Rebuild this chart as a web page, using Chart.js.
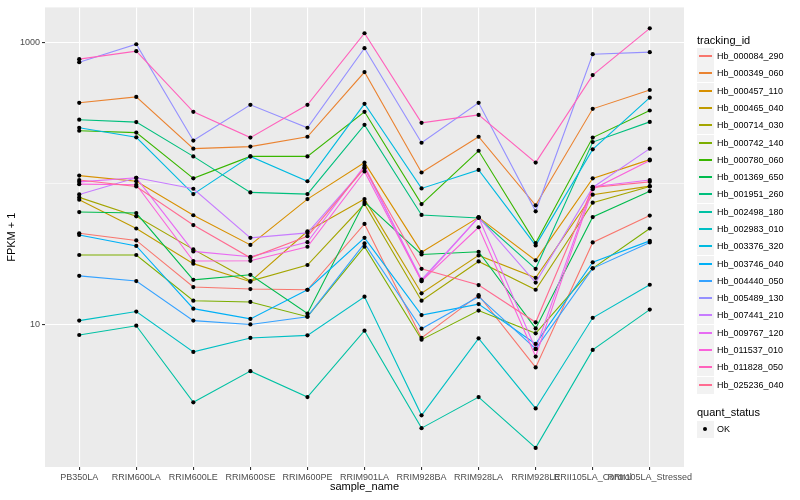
<!DOCTYPE html>
<html><head><meta charset="utf-8">
<script src="https://cdn.jsdelivr.net/npm/chart.js@4.4.1/dist/chart.umd.min.js"></script>
<style>
html,body{margin:0;padding:0;background:#fff;}
#wrap{position:relative;width:800px;height:500px;font-family:"Liberation Sans",Arial,Helvetica,sans-serif;background:#fff;overflow:hidden;}
#c{position:absolute;left:0;top:0;}
.ttl{position:absolute;left:697px;font-size:11px;color:#000;line-height:13px;white-space:nowrap;}
.item{position:absolute;left:697px;height:17px;width:100px;}
.key{position:absolute;left:0;top:0;width:17px;height:17px;background:#F2F2F2;}
.key i{display:block;position:absolute;left:2px;width:13px;top:7px;height:2px;}
.key b{display:block;position:absolute;left:6px;top:6px;width:4px;height:4px;border-radius:50%;background:#000;}
.lab{position:absolute;left:20px;top:0;font-size:9px;line-height:17px;color:#000;white-space:nowrap;}
</style></head>
<body>
<div id="wrap"><canvas id="c" width="800" height="500"></canvas><div id="legend"></div></div>
<script>
const samples = ['PB350LA','RRIM600LA','RRIM600LE','RRIM600SE','RRIM600PE','RRIM901LA','RRIM928BA','RRIM928LA','RRIM928LE','RRII105LA_Control','RRII105LA_Stressed'];
const trackingIds = ['Hb_000084_290','Hb_000349_060','Hb_000457_110','Hb_000465_040','Hb_000714_030','Hb_000742_140','Hb_000780_060','Hb_001369_650','Hb_001951_260','Hb_002498_180','Hb_002983_010','Hb_003376_320','Hb_003746_040','Hb_004440_050','Hb_005489_130','Hb_007441_210','Hb_009767_120','Hb_011537_010','Hb_011828_050','Hb_025236_040'];
const seriesColors = ['#F8766D','#EA8331','#D89000','#C09B00','#A3A500','#7CAE00','#39B600','#00BB4E','#00BF7D','#00C1A3','#00BFC4','#00BAE0','#00B0F6','#35A2FF','#9590FF','#C77CFF','#E76BF3','#FA62DB','#FF62BC','#FF6C91'];
const qualityStatus = ['OK'];

// FPKM + 1 per sample, one array per tracking id
const hb000084_290 = [44.5, 39.6, 18.5, 17.9, 17.7, 51.8, 8.06, 16.2, 4.98, 38.3, 59.4];
const hb000349_060 = [374, 412, 177, 183, 215, 618, 120, 215, 70.2, 339, 461];
const hb000457_110 = [114, 104, 59.7, 36.8, 77.7, 141, 32.7, 57.7, 28.6, 109, 148];
const hb000465_040 = [76.9, 48.1, 27.1, 20.2, 46.0, 77.7, 16.7, 31.0, 21.5, 83.5, 96.0];
const hb000714_030 = [79.9, 58.7, 34.2, 20.4, 26.5, 71.7, 14.8, 28.1, 17.7, 73.3, 95.5];
const hb000742_140 = [31.2, 31.2, 14.8, 14.5, 11.4, 35.7, 7.84, 12.6, 8.69, 25.1, 48.1];
const hb000780_060 = [237, 230, 109, 156, 156, 323, 71.7, 171, 37.9, 212, 330];
const hb001369_650 = [62.9, 61.9, 20.8, 22.6, 12.0, 74.0, 31.5, 32.9, 9.42, 58.0, 88.5];
const hb001951_260 = [284, 273, 156, 86.7, 84.3, 261, 60.0, 57.1, 24.9, 197, 274];
const hb002498_180 = [8.46, 9.84, 2.82, 4.69, 3.07, 9.07, 1.85, 3.07, 1.34, 6.63, 12.8];
const hb002983_010 = [10.7, 12.4, 6.42, 8.06, 8.41, 15.8, 2.28, 8.01, 2.55, 11.2, 19.2];
const hb003376_320 = [249, 213, 84.3, 156, 104, 368, 92.5, 125, 36.5, 175, 407];
const hb003746_040 = [43.3, 36.2, 13.0, 11.0, 17.7, 41.3, 11.7, 14.0, 7.31, 27.7, 39.3];
const hb004440_050 = [22.2, 20.4, 10.7, 10.05, 11.4, 37.7, 9.37, 15.8, 6.74, 25.1, 38.3];
const hb005489_130 = [726, 973, 202, 362, 249, 912, 195, 374, 63.7, 827, 855];
const hb007441_210 = [83.9, 110, 92.0, 41.3, 44.8, 129, 20.9, 57.7, 19.9, 94.0, 177];
const hb009767_120 = [103, 110, 33.1, 30.3, 38.5, 134, 20.4, 57.7, 6.74, 95.1, 106];
const hb011537_010 = [99.2, 98.2, 28.3, 28.4, 35.7, 122, 20.4, 49.1, 5.95, 91.4, 146];
const hb011828_050 = [763, 869, 323, 212, 362, 1164, 270, 307, 141, 588, 1262];
const hb025236_040 = [106, 95.5, 50.9, 29.8, 42.4, 129, 24.9, 19.1, 10.4, 94.0, 103];

const seriesValues = [hb000084_290, hb000349_060, hb000457_110, hb000465_040, hb000714_030, hb000742_140, hb000780_060, hb001369_650, hb001951_260, hb002498_180, hb002983_010, hb003376_320, hb003746_040, hb004440_050, hb005489_130, hb007441_210, hb009767_120, hb011537_010, hb011828_050, hb025236_040];

const yTickValues = [10, 100, 1000];
const yTickLabels = ['10', '', '1000'];

const FONT = '"Liberation Sans", Arial, Helvetica, sans-serif';
Chart.defaults.font.family = FONT;

const lineSets = trackingIds.map((id, i) => ({
  type: 'line', label: id,
  data: seriesValues[i].map((v, j) => ({x: j, y: v})),
  borderColor: seriesColors[i], backgroundColor: seriesColors[i],
  borderWidth: 1.1, pointRadius: 0, pointHoverRadius: 0, fill: false, tension: 0,
  order: 100 - i
}));
const pts = [];
seriesValues.forEach(arr => arr.forEach((v, j) => pts.push({x: j, y: v})));
const pointSet = {type: 'scatter', label: qualityStatus[0], data: pts, showLine: false,
  pointRadius: 2.1, pointHoverRadius: 2.1, backgroundColor: '#000', borderColor: '#000', borderWidth: 0, order: 0};

const panelBg = {id: 'panelBg', beforeDraw(chart) {
  const {ctx, chartArea: a} = chart;
  ctx.save(); ctx.fillStyle = '#EBEBEB';
  ctx.fillRect(a.left, a.top, a.right - a.left, a.bottom - a.top); ctx.restore();
}};

new Chart(document.getElementById('c'), {
  type: 'line',
  data: {datasets: [...lineSets, pointSet]},
  plugins: [panelBg],
  options: {
    responsive: false, animation: false, devicePixelRatio: 1,
    layout: {padding: {left: 0, right: 116, top: 5, bottom: 0}},
    plugins: {legend: {display: false}, tooltip: {enabled: false}},
    scales: {
      x: {
        type: 'linear', min: -0.6, max: 10.6, bounds: 'data',
        afterBuildTicks: s => { s.ticks = samples.map((_, i) => ({value: i})); },
        afterFit: s => { s.height = 33; s.paddingLeft = 0; s.paddingRight = 0; },
        ticks: {autoSkip: false, maxRotation: 0, minRotation: 0, padding: 2, color: '#4D4D4D',
          font: {size: 9}, callback: v => samples[Math.round(v)]},
        grid: {color: '#FFFFFF', lineWidth: 1.1, tickLength: 3, tickColor: '#333333', drawTicks: true},
        border: {display: false},
        title: {display: true, text: 'sample_name', color: '#000', font: {size: 11}, padding: {top: 0, bottom: 6}}
      },
      y: {
        type: 'logarithmic', min: 0.981, max: 1775, bounds: 'data',
        afterBuildTicks: s => { s.ticks = yTickValues.map(v => ({value: v})); },
        afterFit: s => { s.width = 45; },
        ticks: {autoSkip: false, padding: 2, color: '#4D4D4D', font: {size: 9},
          callback: v => { const k = yTickValues.indexOf(v); return k >= 0 ? yTickLabels[k] : ''; }},
        grid: {color: '#FFFFFF',
          lineWidth: c => (c.tick && c.tick.value === 100) ? 0.55 : 1.1,
          tickLength: 3,
          tickColor: c => (c.tick && c.tick.value === 100) ? 'rgba(0,0,0,0)' : '#333333'},
        border: {display: false},
        title: {display: true, text: 'FPKM + 1', color: '#000', font: {size: 11}, padding: {top: 5, bottom: 0}}
      }
    }
  }
});

// legend (ggplot-like)
const lg = document.getElementById('legend');
function addTitle(text, cy) {
  const d = document.createElement('div'); d.className = 'ttl'; d.textContent = text;
  d.style.top = Math.round(cy - 6.5) + 'px'; lg.appendChild(d);
}
addTitle('tracking_id', 40.7);
trackingIds.forEach((id, k) => {
  const cy = 56.7 + 17.28 * k;
  const it = document.createElement('div'); it.className = 'item'; it.style.top = Math.round(cy - 8.5) + 'px';
  it.innerHTML = '<div class="key"><i style="background:' + seriesColors[k] + '"></i></div><div class="lab"></div>';
  it.querySelector('.lab').textContent = id;
  lg.appendChild(it);
});
addTitle('quant_status', 412.3);
qualityStatus.forEach((s, k) => {
  const cy = 429.5 + 17.28 * k;
  const it = document.createElement('div'); it.className = 'item'; it.style.top = Math.round(cy - 8.5) + 'px';
  it.innerHTML = '<div class="key"><b></b></div><div class="lab"></div>';
  it.querySelector('.lab').textContent = s;
  lg.appendChild(it);
});
</script>
</body></html>
